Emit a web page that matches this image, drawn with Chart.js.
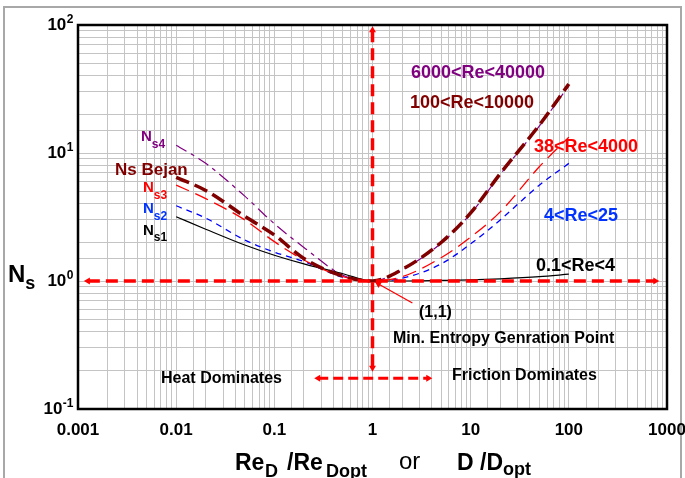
<!DOCTYPE html>
<html><head><meta charset="utf-8">
<script src="https://cdn.jsdelivr.net/npm/chart.js@4"></script>
<style>html,body{margin:0;padding:0;background:#fff;}canvas{display:block;}</style>
</head><body>
<canvas id="c" width="685" height="478"></canvas>
<script>
// ---- data ----
const ratioX = [0.01, 0.02, 0.05, 0.1, 0.2, 0.5, 1, 2, 5, 10, 20, 50, 100];
const ns4    = [11.5, 8.3, 4.6, 2.8, 1.83, 1.11, 1, 1.22, 1.97, 3.35, 6.8, 16.2, 33.5];
const nsBejan= [6.46, 5.1, 3.2, 2.29, 1.5, 1.09, 1, 1.23, 2.0, 3.4, 6.9, 16.5, 34.6];
const ns3    = [5.62, 4.4, 3.0, 2.03, 1.46, 1.08, 1, 1.08, 1.52, 2.2, 3.47, 7.8, 13.3];
const ns2    = [3.87, 3.1, 2.09, 1.68, 1.42, 1.07, 1, 1.05, 1.36, 1.95, 3.0, 5.6, 8.3];
const ns1    = [3.18, 2.54, 1.91, 1.59, 1.36, 1.14, 1, 1.0, 1.01, 1.02, 1.04, 1.08, 1.13];

const xTickValues = [0.001, 0.01, 0.1, 1, 10, 100, 1000];
const xTickLabels = ['0.001', '0.01', '0.1', '1', '10', '100', '1000'];
const yTickValues = [0.1, 1, 10, 100];
const yTickExps   = ['-1', '0', '1', '2'];

// red reference arrows (data coordinates)
const optLineX  = [0.00126, 760];  const optLineY  = [1, 1];
const optVertX  = [1, 1];          const optVertY  = [91, 0.21];
const domLineX  = [0.28, 3.7];     const domLineY  = [0.174, 0.174];
const pointerX  = [2.55, 1.15];    const pointerY  = [0.673, 0.947];

const pts = (xs, ys) => xs.map((x, i) => ({x: x, y: ys[i]}));
const FONT = "'Liberation Sans', Arial, sans-serif";

function curve(label, ys, color, width, dash, order) {
  return {label, data: pts(ratioX, ys), borderColor: color, borderWidth: width,
    borderDash: dash, pointRadius: 0, cubicInterpolationMode: 'monotone', fill: false, order};
}
function arrow(xs, ys, rot, dash, width) {
  return {data: pts(xs, ys), borderColor: '#ff0000', borderWidth: width, borderDash: dash,
    pointRadius: 4, pointStyle: 'triangle', pointRotation: rot, pointBackgroundColor: '#ff0000',
    pointBorderWidth: 0, tension: 0, fill: false, order: 0};
}

function txt(ctx, parts, x) {
  let cx = x;
  for (const p of parts) {
    ctx.font = p[1]; ctx.fillStyle = p[3];
    if (p[4] !== undefined) cx = p[4];
    ctx.fillText(p[0], cx, p[2]);
    cx += ctx.measureText(p[0]).width;
  }
}

const deco = {
  id: 'deco',
  beforeDraw(chart) {
    const ctx = chart.ctx; ctx.save();
    ctx.fillStyle = '#fff'; ctx.fillRect(0, 0, chart.width, chart.height);
    ctx.strokeStyle = '#a8a8a8'; ctx.lineWidth = 2;
    ctx.strokeRect(4, 7, 677, 490);
    ctx.restore();
  },
  afterDraw(chart) {
    const ctx = chart.ctx, a = chart.chartArea;
    const xs = chart.scales.x, ys = chart.scales.y;
    ctx.save();
    ctx.strokeStyle = '#000'; ctx.lineWidth = 2.5;
    ctx.strokeRect(a.left, a.top, a.right - a.left, a.bottom - a.top);
    ctx.textBaseline = 'alphabetic';
    ctx.font = 'bold 17px ' + FONT; ctx.fillStyle = '#000'; ctx.textAlign = 'center';
    xTickValues.forEach((v, i) => ctx.fillText(xTickLabels[i], xs.getPixelForValue(v), 435));
    ctx.textAlign = 'left';
    yTickValues.forEach((v, i) => {
      const py = ys.getPixelForValue(v);
      ctx.font = 'bold 12px ' + FONT;
      const ew = ctx.measureText(yTickExps[i]).width;
      ctx.font = 'bold 17px ' + FONT;
      const bw = ctx.measureText('10').width;
      const x0 = 73 - ew - bw;
      ctx.fillText('10', x0, py + 5);
      ctx.font = 'bold 12px ' + FONT;
      ctx.fillText(yTickExps[i], x0 + bw + 0.5, py - 2);
    });
    const B23 = 'bold 23px ' + FONT, B18 = 'bold 18px ' + FONT;
    txt(ctx, [['Re', B23, 470, '#000'], ['D', B18, 477, '#000', 265], ['/Re', B23, 470, '#000', 287],
              ['Dopt', B18, 477, '#000', 326]], 235);
    txt(ctx, [['or', '24px ' + FONT, 469, '#000']], 399);
    txt(ctx, [['D /D', B23, 470, '#000'], ['opt', B18, 475, '#000']], 457);
    txt(ctx, [['N', 'bold 24px ' + FONT, 282, '#000'], ['s', B18, 289, '#000']], 8);
    const N = 'bold 15px ' + FONT, S = 'bold 12px ' + FONT;
    txt(ctx, [['N', N, 141, '#800080'], ['s4', S, 148, '#800080']], 141);
    txt(ctx, [['Ns Bejan', 'bold 17px ' + FONT, 175, '#800000']], 115);
    txt(ctx, [['N', N, 192, '#ff0000'], ['s3', S, 199, '#ff0000']], 143);
    txt(ctx, [['N', N, 213, '#0033ff'], ['s2', S, 220, '#0033ff']], 143);
    txt(ctx, [['N', N, 235, '#000'], ['s1', S, 241, '#000']], 143);
    const R = 'bold 18px ' + FONT;
    txt(ctx, [['6000<Re<40000', R, 78, '#800080']], 411);
    txt(ctx, [['100<Re<10000', R, 108, '#800000']], 410);
    txt(ctx, [['38<Re<4000', R, 152, '#ff0000']], 534);
    txt(ctx, [['4<Re<25', R, 221, '#0033ff']], 544);
    txt(ctx, [['0.1<Re<4', R, 271, '#000']], 536);
    const A = 'bold 16px ' + FONT;
    txt(ctx, [['(1,1)', A, 317, '#000']], 419);
    txt(ctx, [['Min. Entropy Genration Point', A, 343, '#000']], 393);
    txt(ctx, [['Friction Dominates', A, 380, '#000']], 452);
    txt(ctx, [['Heat Dominates', A, 383, '#000']], 161);
    ctx.restore();
  }
};

new Chart(document.getElementById('c'), {
  type: 'line',
  data: {
    datasets: [
      arrow(optLineX, optLineY, [270, 90], [12, 6], 3.5),
      arrow(optVertX, optVertY, [0, 180], [12, 6], 3.5),
      arrow(domLineX, domLineY, [270, 90], [10, 5], 3),
      Object.assign(arrow(pointerX, pointerY, [0, 299], [], 1.3), {pointRadius: [0, 4]}),
      curve('Ns Bejan', nsBejan, '#800000', 3.5, [14, 6], 1),
      curve('Ns4', ns4, '#800080', 1.2, [12, 5, 4, 5], 2),
      curve('Ns3', ns3, '#ff0000', 1.3, [14, 7], 3),
      curve('Ns2', ns2, '#0000ff', 1.3, [6, 5], 4),
      curve('Ns1', ns1, '#000000', 1.2, [], 5)
    ]
  },
  options: {
    responsive: false, animation: false, devicePixelRatio: 1,
    layout: {padding: {left: 0, top: 25, right: 18, bottom: 0}},
    plugins: {legend: {display: false}, tooltip: {enabled: false}},
    scales: {
      x: {type: 'logarithmic', min: 0.001, max: 1000,
          grid: {color: '#c4c4c4', lineWidth: 1, drawTicks: false},
          border: {display: false}, ticks: {display: false, autoSkip: false},
          afterFit: s => { s.height = 69; }},
      y: {type: 'logarithmic', min: 0.1, max: 100,
          grid: {color: '#c4c4c4', lineWidth: 1, drawTicks: false},
          border: {display: false}, ticks: {display: false, autoSkip: false},
          afterFit: s => { s.width = 78; }}
    }
  },
  plugins: [deco]
});
</script>
</body></html>
